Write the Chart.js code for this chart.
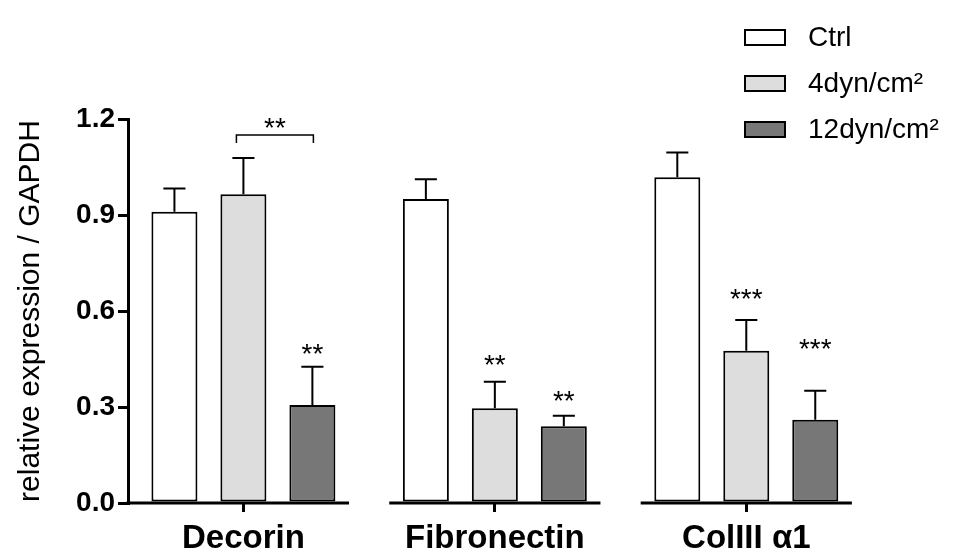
<!DOCTYPE html>
<html>
<head>
<meta charset="utf-8">
<script src="https://cdn.jsdelivr.net/npm/chart.js@4"></script>
<style>
  html, body { margin: 0; padding: 0; background: #fff; }
  #wrap { position: relative; width: 971px; height: 557px; }
  #legend { position: absolute; left: 744px; top: 14px; font-family: 'Liberation Sans', Arial, sans-serif; font-size: 28px; color: #000; }
  .row { display: flex; align-items: center; height: 46px; }
  .box { width: 38px; height: 13px; border: 2px solid #000; margin-right: 22px; box-sizing: content-box; }
</style>
</head>
<body>
<div id="wrap">
  <canvas id="c" width="971" height="557"></canvas>
  <div id="legend"></div>
</div>
<script>
// ---- data ----
const categories = ['Decorin', 'Fibronectin', 'ColIII \u03b11'];
const seriesNames = ['Ctrl', '4dyn/cm\u00b2', '12dyn/cm\u00b2'];
const ctrl  = [0.910, 0.950, 1.018];
const dyn4  = [0.965, 0.296, 0.476];
const dyn12 = [0.306, 0.240, 0.260];
const ctrlErr  = [0.073, 0.062, 0.077];
const dyn4Err  = [0.113, 0.083, 0.096];
const dyn12Err = [0.120, 0.033, 0.091];
// significance marks (label, value level of the mark centre)
const ctrlSig   = ['', '', ''];
const ctrlSigY  = [null, null, null];
const dyn4Sig   = ['', '**', '***'];
const dyn4SigY  = [null, 0.452, 0.658];
const dyn12Sig  = ['**', '**', '***'];
const dyn12SigY = [0.488, 0.341, 0.502];
// bracket comparison: group, from series, to series, level, label, label level
const bracketGroup = 0, bracketFrom = 1, bracketTo = 2;
const bracketLevel = 1.15, bracketLabel = '**', bracketLabelLevel = 1.193;
const yTicks = [0, 0.3, 0.6, 0.9, 1.2];

const fills = ['#ffffff', '#dddddd', '#777777'];
const values = [ctrl, dyn4, dyn12];
const errs = [ctrlErr, dyn4Err, dyn12Err];
const sigs = [ctrlSig, dyn4Sig, dyn12Sig];
const sigYs = [ctrlSigY, dyn4SigY, dyn12SigY];
const FONT = "'Liberation Sans', Arial, sans-serif";

// HTML legend
const leg = document.getElementById('legend');
seriesNames.forEach((n, i) => {
  const r = document.createElement('div'); r.className = 'row';
  const b = document.createElement('div'); b.className = 'box'; b.style.background = fills[i];
  const t = document.createElement('span'); t.textContent = n;
  r.appendChild(b); r.appendChild(t); leg.appendChild(r);
});

const annot = {
  id: 'annot',
  afterDatasetsDraw(chart) {
    const ctx = chart.ctx, ys = chart.scales.y, xs = chart.scales.x, area = chart.chartArea;
    ctx.save();
    // segmented baseline
    ctx.strokeStyle = '#000'; ctx.lineWidth = 3; ctx.lineCap = 'butt';
    categories.forEach((c, i) => {
      const x1 = i === 0 ? area.left - 1.5 : xs.getPixelForValue(i - 0.42);
      const x2 = xs.getPixelForValue(i + 0.42);
      ctx.beginPath(); ctx.moveTo(x1, area.bottom); ctx.lineTo(x2, area.bottom); ctx.stroke();
    });
    // error bars + stars
    values.forEach((vals, d) => {
      const meta = chart.getDatasetMeta(d);
      meta.data.forEach((el, i) => {
        const yb = ys.getPixelForValue(vals[i]);
        const yt = ys.getPixelForValue(vals[i] + errs[d][i]);
        const cw = el.width * 0.24;
        ctx.lineWidth = 2; ctx.strokeStyle = '#000';
        ctx.beginPath(); ctx.moveTo(el.x, yb); ctx.lineTo(el.x, yt);
        ctx.moveTo(el.x - cw, yt); ctx.lineTo(el.x + cw, yt); ctx.stroke();
        if (sigs[d][i]) {
          ctx.fillStyle = '#000'; ctx.font = '28px ' + FONT;
          ctx.textAlign = 'center'; ctx.textBaseline = 'alphabetic';
          ctx.fillText(sigs[d][i], el.x, ys.getPixelForValue(sigYs[d][i]) + 16);
        }
      });
    });
    // bracket
    const a = chart.getDatasetMeta(bracketFrom).data[bracketGroup];
    const b = chart.getDatasetMeta(bracketTo).data[bracketGroup];
    const by = ys.getPixelForValue(bracketLevel);
    ctx.lineWidth = 1.5;
    ctx.beginPath();
    ctx.moveTo(a.x - 7, by + 8); ctx.lineTo(a.x - 7, by); ctx.lineTo(b.x + 1, by); ctx.lineTo(b.x + 1, by + 8);
    ctx.stroke();
    ctx.font = '28px ' + FONT; ctx.textAlign = 'center';
    ctx.fillText(bracketLabel, (a.x - 7 + b.x + 1) / 2, ys.getPixelForValue(bracketLabelLevel) + 16);
    ctx.restore();
  }
};

new Chart(document.getElementById('c'), {
  type: 'bar',
  data: {
    datasets: values.map((vals, d) => ({
      label: seriesNames[d],
      data: vals.map((v, i) => ({ x: i, y: v })),
      backgroundColor: fills[d],
      borderColor: '#000',
      borderWidth: 2,
      borderSkipped: false,
      categoryPercentage: 0.823,
      barPercentage: 0.667
    }))
  },
  options: {
    responsive: false,
    animation: false,
    devicePixelRatio: 1,
    layout: { padding: { left: 0, top: 119, right: 99, bottom: 0 } },
    plugins: { legend: { display: false }, tooltip: { enabled: false } },
    scales: {
      x: {
        type: 'linear',
        offset: false,
        min: -0.459, max: 2.5,
        afterBuildTicks(s) { s.ticks = categories.map((c, i) => ({ value: i })); },
        afterFit(s) { s.height = 54; },
        ticks: {
          callback: (v) => categories[v] ?? '',
          font: { family: FONT, size: 33, weight: 'bold' },
          color: '#000', padding: 7, maxRotation: 0, autoSkip: false
        },
        grid: { offset: false, drawOnChartArea: false, drawTicks: true, tickLength: 9, lineWidth: 3, color: '#000' },
        border: { display: false }
      },
      y: {
        min: 0, max: 1.2,
        afterBuildTicks(s) { s.ticks = yTicks.map(v => ({ value: v })); },
        afterFit(s) { s.width = 128; },
        ticks: {
          callback: (v) => Number(v).toFixed(1),
          font: { family: FONT, size: 28, weight: 'bold' },
          color: '#000', padding: 3
        },
        grid: { drawOnChartArea: false, drawTicks: true, tickLength: 10, lineWidth: 3, color: '#000' },
        border: { display: true, width: 3, color: '#000' },
        title: {
          display: true, text: 'relative expression / GAPDH',
          font: { family: FONT, size: 30 }, color: '#000',
          padding: { top: 13, bottom: 0 }
        }
      }
    }
  },
  plugins: [annot]
});
</script>
</body>
</html>
